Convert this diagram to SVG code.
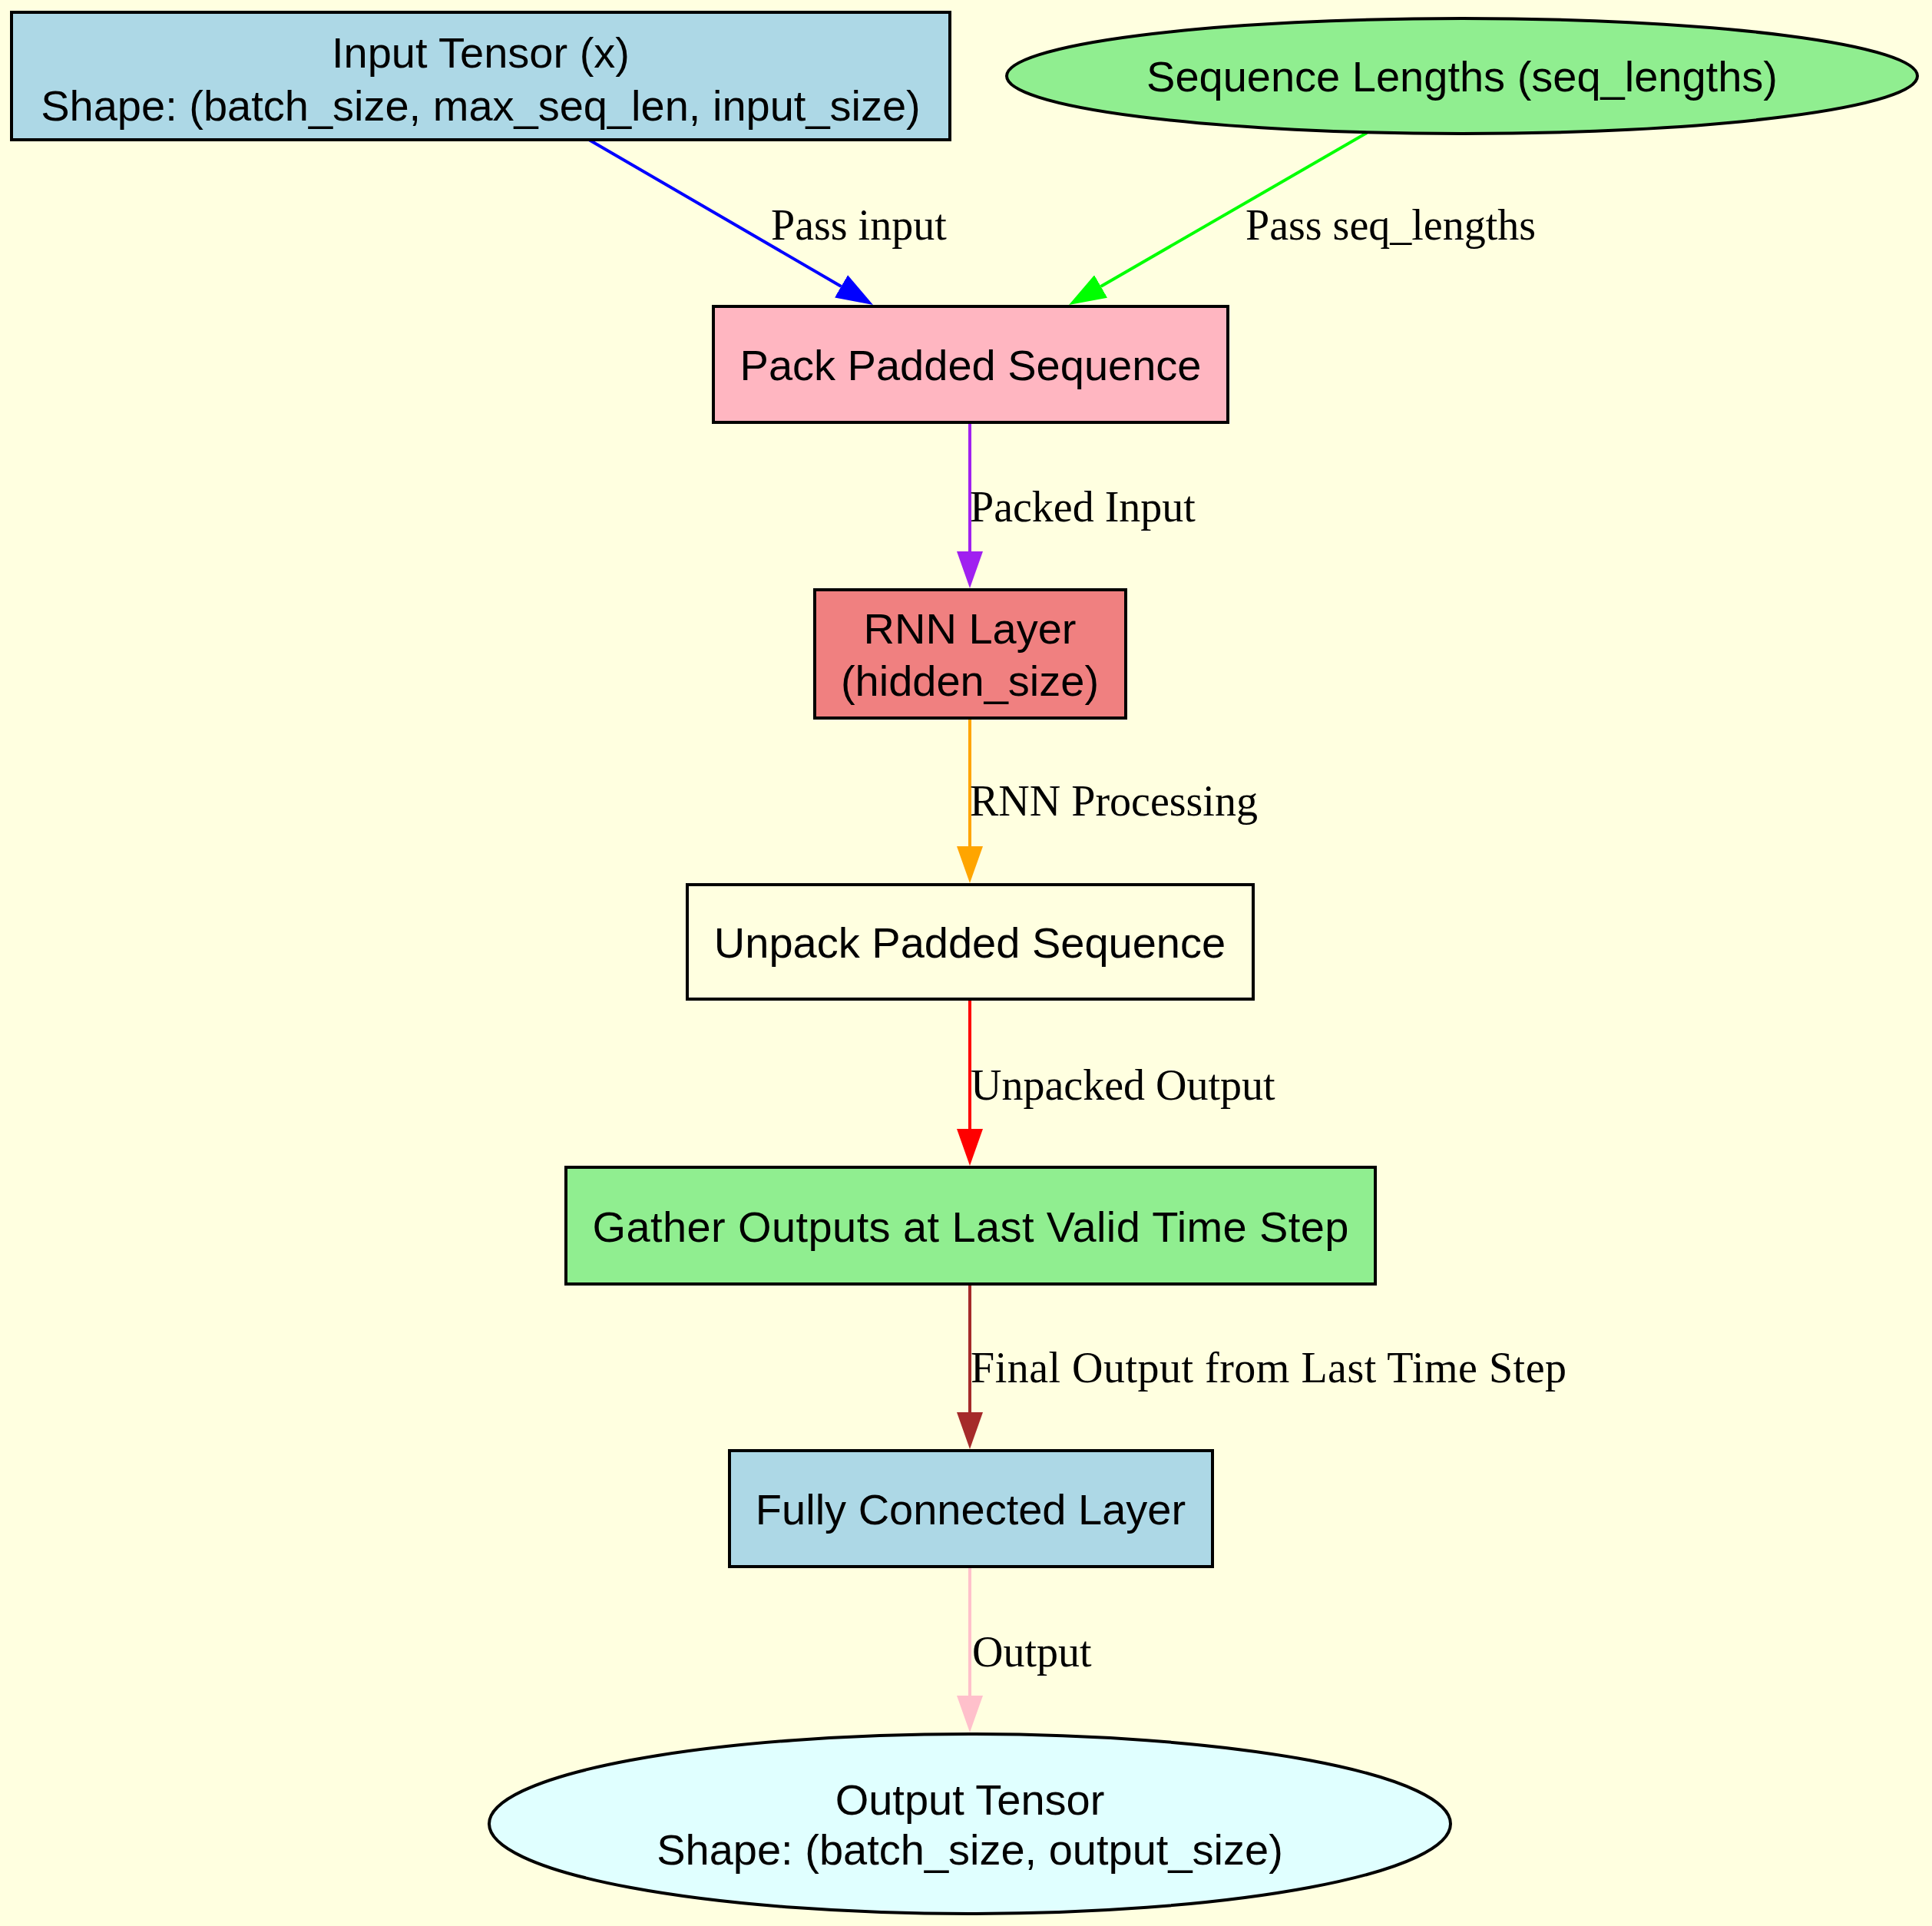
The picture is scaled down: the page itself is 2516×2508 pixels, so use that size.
<svg xmlns="http://www.w3.org/2000/svg" width="2516" height="2508" viewBox="0 0 2516 2508">
<defs>
<style>
.node{stroke:#000;stroke-width:4}
.nl{font-family:"Liberation Sans",Arial,sans-serif;font-size:56px;text-anchor:middle;fill:#000}
.el{font-family:"Liberation Serif","Times New Roman",serif;font-size:56px;fill:#000}
.edge{fill:none;stroke-width:4}
</style>
<marker id="aBlue" viewBox="0 0 48 34" refX="0" refY="17" markerWidth="48" markerHeight="34" markerUnits="userSpaceOnUse" orient="auto"><path d="M0,0 L48,17 L0,34 z" fill="#0000ff"/></marker>
<marker id="aGreen" viewBox="0 0 48 34" refX="0" refY="17" markerWidth="48" markerHeight="34" markerUnits="userSpaceOnUse" orient="auto"><path d="M0,0 L48,17 L0,34 z" fill="#00ff00"/></marker>
<marker id="aPurple" viewBox="0 0 48 34" refX="0" refY="17" markerWidth="48" markerHeight="34" markerUnits="userSpaceOnUse" orient="auto"><path d="M0,0 L48,17 L0,34 z" fill="#a020f0"/></marker>
<marker id="aOrange" viewBox="0 0 48 34" refX="0" refY="17" markerWidth="48" markerHeight="34" markerUnits="userSpaceOnUse" orient="auto"><path d="M0,0 L48,17 L0,34 z" fill="#ffa500"/></marker>
<marker id="aRed" viewBox="0 0 48 34" refX="0" refY="17" markerWidth="48" markerHeight="34" markerUnits="userSpaceOnUse" orient="auto"><path d="M0,0 L48,17 L0,34 z" fill="#ff0000"/></marker>
<marker id="aBrown" viewBox="0 0 48 34" refX="0" refY="17" markerWidth="48" markerHeight="34" markerUnits="userSpaceOnUse" orient="auto"><path d="M0,0 L48,17 L0,34 z" fill="#a52a2a"/></marker>
<marker id="aPink" viewBox="0 0 48 34" refX="0" refY="17" markerWidth="48" markerHeight="34" markerUnits="userSpaceOnUse" orient="auto"><path d="M0,0 L48,17 L0,34 z" fill="#ffc0cb"/></marker>
</defs>
<rect x="0" y="0" width="2516" height="2508" fill="#ffffe0"/>

<g id="edges">
<g id="e_input_pack"><path class="edge" stroke="#0000ff" d="M767,182 L1095.5,372.9" marker-end="url(#aBlue)"/><text class="el" x="1004" y="312">Pass input</text></g>
<g id="e_seq_pack"><path class="edge" stroke="#00ff00" d="M1780,173 L1433.6,373" marker-end="url(#aGreen)"/><text class="el" x="1622" y="312">Pass seq_lengths</text></g>
<g id="e_pack_rnn"><path class="edge" stroke="#a020f0" d="M1263,550 L1263,718" marker-end="url(#aPurple)"/><text class="el" x="1263" y="679">Packed Input</text></g>
<g id="e_rnn_unpack"><path class="edge" stroke="#ffa500" d="M1263,935 L1263,1102" marker-end="url(#aOrange)"/><text class="el" x="1263" y="1062">RNN Processing</text></g>
<g id="e_unpack_gather"><path class="edge" stroke="#ff0000" d="M1263,1301 L1263,1470" marker-end="url(#aRed)"/><text class="el" x="1264" y="1432">Unpacked Output</text></g>
<g id="e_gather_fc"><path class="edge" stroke="#a52a2a" d="M1263,1672 L1263,1839" marker-end="url(#aBrown)"/><text class="el" x="1264" y="1800" textLength="776" lengthAdjust="spacing">Final Output from Last Time Step</text></g>
<g id="e_fc_output"><path class="edge" stroke="#ffc0cb" d="M1263,2040 L1263,2208" marker-end="url(#aPink)"/><text class="el" x="1266" y="2170">Output</text></g>
</g>

<g id="input_tensor"><rect class="node" x="15" y="16" width="1222" height="166" fill="#add8e6"/><text class="nl" x="626" y="88">Input Tensor (x)</text><text class="nl" x="626" y="157">Shape: (batch_size, max_seq_len, input_size)</text></g>
<g id="seq_lengths"><ellipse class="node" cx="1904" cy="99" rx="593" ry="75" fill="#90ee90"/><text class="nl" x="1904" y="119">Sequence Lengths (seq_lengths)</text></g>
<g id="pack"><rect class="node" x="929" y="399" width="670" height="151" fill="#ffb6c1"/><text class="nl" x="1264" y="495">Pack Padded Sequence</text></g>
<g id="rnn"><rect class="node" x="1061" y="768" width="405" height="167" fill="#f08080"/><text class="nl" x="1263" y="838">RNN Layer</text><text class="nl" x="1263" y="906">(hidden_size)</text></g>
<g id="unpack"><rect class="node" x="895" y="1152" width="737" height="149" fill="none"/><text class="nl" x="1263" y="1247">Unpack Padded Sequence</text></g>
<g id="gather"><rect class="node" x="737" y="1520" width="1054" height="152" fill="#90ee90"/><text class="nl" x="1264" y="1617" textLength="985" lengthAdjust="spacing">Gather Outputs at Last Valid Time Step</text></g>
<g id="fc"><rect class="node" x="950" y="1889" width="629" height="151" fill="#add8e6"/><text class="nl" x="1264" y="1985">Fully Connected Layer</text></g>
<g id="output_tensor"><ellipse class="node" cx="1263" cy="2375" rx="626" ry="117" fill="#e0ffff"/><text class="nl" x="1263" y="2363">Output Tensor</text><text class="nl" x="1263" y="2428">Shape: (batch_size, output_size)</text></g>
</svg>
